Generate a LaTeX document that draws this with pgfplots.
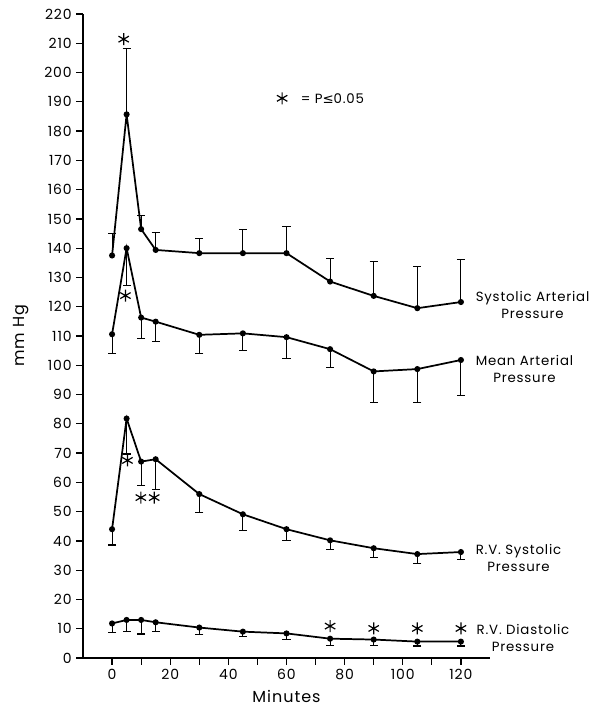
\documentclass[border=0pt]{standalone}
\usepackage{fontspec}
\setmainfont{Poppins}[LetterSpace=6.0]
\newfontfamily\symfont{DejaVu Sans}
\usepackage{pgfplots}
\usepackage{pgfplotstable}
\pgfplotsset{compat=1.18}

% time (min), mean, one-sided SE
\pgfplotstableread{
t y e
0 137.5 7.6
5 185.7 22.6
10 146.5 4.8
15 139.4 6.0
30 138.3 5.1
45 138.3 8.2
60 138.3 9.1
75 128.6 7.9
90 123.7 11.7
105 119.5 14.2
120 121.6 14.4
}\sysart

\pgfplotstableread{
t y e
0 110.6 6.5
5 140.0 12.6
10 116.3 7.3
15 114.9 6.9
30 110.4 6.3
45 110.9 5.7
60 109.6 7.2
75 105.5 6.3
90 97.9 10.5
105 98.7 11.3
120 101.8 12.2
}\meanart

\pgfplotstableread{
t y e
0 44.0 5.4
5 81.8 12.1
10 67.1 8.2
15 67.9 10.3
30 56.0 6.2
45 49.1 5.4
60 44.0 3.9
75 40.2 3.0
90 37.5 3.2
105 35.5 3.3
120 36.2 2.7
}\rvsys

\pgfplotstableread{
t y e
0 11.8 3.0
5 13.0 3.8
10 13.0 4.8
15 12.2 3.2
30 10.4 2.3
45 9.0 1.7
60 8.4 2.0
75 6.6 2.4
90 6.3 1.9
105 5.6 1.5
120 5.6 1.5
}\rvdia

% significance markers (P <= 0.05); last row is the key symbol
\pgfplotstableread{
t y
4.0 211.4
4.6 123.8
5.3 67.5
9.9 54.8
14.5 54.8
75 10.9
90 10.1
105 10.1
120 10.1
58.5 191.2
}\signif

\pgfplotsset{
  series/.style={black, line width=1.3pt, mark=*, mark size=1.6pt,
    mark options={solid, fill=black},
    error bars/.cd, y dir=#1, y explicit,
    error bar style={line width=0.8pt},
    error mark options={rotate=90, mark size=3pt, line width=0.8pt}},
}

\begin{document}
\begin{tikzpicture}
\begin{axis}[
  scale only axis,
  width=305.25pt, height=483pt,
  xmin=-10, xmax=130, ymin=0, ymax=220,
  axis x line*=bottom, axis y line*=left,
  axis line style={-, line width=0.9pt},
  xtick={0,20,...,120},
  minor xtick={10,30,...,110},
  ytick={0,10,...,220},
  tick align=outside,
  major tick length=5pt, minor tick length=5pt,
  tick style={black, line width=0.9pt},
  every tick label/.append style={font=\fontsize{10.5}{12}\selectfont},
  /pgf/number format/assume math mode=true,
  xlabel={Minutes}, ylabel={mm Hg},
  label style={font=\fontsize{12}{14}\selectfont},
  xlabel style={yshift=-1pt},
  ylabel style={yshift=5pt},
  clip=false,
]
\coordinate (bbsw) at (rel axis cs:0,0);
\coordinate (bbne) at (rel axis cs:1,1);
\addplot[series=plus]  table[x=t, y=y, y error=e]{\sysart};
\addplot[series=minus] table[x=t, y=y, y error=e]{\meanart};
\addplot[series=minus] table[x=t, y=y, y error=e]{\rvsys};
\addplot[series=minus] table[x=t, y=y, y error=e]{\rvdia};
\addplot[only marks, black, mark=asterisk, mark size=4.5pt, line width=0.9pt]
  table[x=t, y=y]{\signif};

\node[anchor=west, font=\fontsize{10}{12}\selectfont] at (axis cs:63.3,191.2) {= P{\symfont ≤}0.05};
\begin{scope}[every node/.style={anchor=west, align=center, font=\fontsize{10}{13}\selectfont}]
\node at (axis cs:123.5,120.6) {Systolic Arterial\\Pressure};
\node at (axis cs:123.5,98.7) {Mean Arterial\\Pressure};
\node at (axis cs:123.5,34.2) {R.V. Systolic\\Pressure};
\node at (axis cs:123.8,6.8) {R.V. Diastolic\\Pressure};
\end{scope}
\end{axis}
\pgfresetboundingbox
\path[use as bounding box]
  ([shift={(-62.25pt,-39pt)}]bbsw) rectangle
  ([shift={(76.5pt,10.5pt)}]bbne);
\end{tikzpicture}
\end{document}
